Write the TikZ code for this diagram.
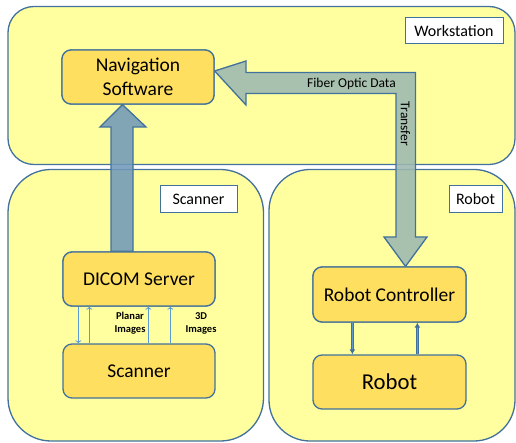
\documentclass[tikz,border=0pt]{standalone}
\usepackage{fontspec}
\setmainfont{Carlito}
\usetikzlibrary{arrows.meta,calc}
\definecolor{panelfill}{HTML}{FFFFA0}
\definecolor{boxfill}{HTML}{FFDF60}
\definecolor{bordercol}{HTML}{41719C}
\definecolor{bigarrow}{HTML}{7199BA}
\definecolor{fiber}{HTML}{9DB8B0}
\definecolor{thinblue}{HTML}{5B9BD5}
\tikzset{
  panel/.style={draw=bordercol, line width=1.3pt, fill=panelfill, inner sep=0pt},
  tag/.style={draw=bordercol, line width=1pt, fill=white, inner sep=0pt, font=\fontsize{16}{18}\selectfont},
  blockbox/.style={draw=bordercol, line width=1.3pt, fill=boxfill, rounded corners=9pt, inner sep=0pt, align=center, font=\fontsize{19.5}{24}\selectfont},
  blockarrow/.style={draw=bordercol, line width=1.3pt, fill opacity=0.88},
  thinarr/.style={draw=thinblue, line width=0.8pt, -{To[length=3pt,width=6pt]}},
  dblarr/.style={draw=bordercol, line width=0.9pt, double=thinblue, double distance=1.6pt, -{Latex[length=5pt,width=6pt]}},
  smalllbl/.style={font=\fontsize{10.5}{13}\selectfont\bfseries, align=center},
}
\begin{document}
\begin{tikzpicture}[x=1pt,y=-1pt]
\useasboundingbox (0,0) rectangle (516,443);
% panels
\node[panel, rounded corners=26pt, minimum width=507pt, minimum height=158pt] (ws) at (261.5,85.5) {};
\node[panel, rounded corners=43pt, minimum width=255.5pt, minimum height=271.5pt] (scn) at (135.75,305.25) {};
\node[panel, rounded corners=41pt, minimum width=246pt, minimum height=271.5pt] (rob) at (392,305.25) {};
% panel tags
\node[tag, minimum width=98pt, minimum height=26pt] (wstag) at (454,31) {Workstation};
\node[tag, minimum width=77pt, minimum height=27pt] (scntag) at (198.5,199.5) {Scanner};
\node[tag, minimum width=53pt, minimum height=27pt] (robtag) at (475.5,199.5) {Robot};
% boxes
\node[blockbox, minimum width=152pt, minimum height=54pt] (nav) at (138,77) {Navigation\\Software};
\node[blockbox, minimum width=152pt, minimum height=54pt] (dicom) at (139,279) {DICOM Server};
\node[blockbox, minimum width=152pt, minimum height=54pt] (scanbox) at (139,371) {Scanner};
\node[blockbox, minimum width=153pt, minimum height=55pt] (ctrl) at (389.5,294.5) {Robot Controller};
\node[blockbox, minimum width=153pt, minimum height=54pt, font=\fontsize{22.7}{26}\selectfont] (robbox) at (389.5,382) {Robot};
% big up arrow DICOM -> Navigation
\path[blockarrow, fill=bigarrow]
  ([xshift=-28pt]dicom.north) -- ([xshift=-28pt]dicom.north |- 0,127) -- ([xshift=-39pt]dicom.north |- 0,127)
  -- ([xshift=-15.5pt]nav.south) -- ([xshift=7pt]dicom.north |- 0,127) -- ([xshift=-6pt]dicom.north |- 0,127)
  -- ([xshift=-6pt]dicom.north) -- cycle;
% fiber optic L arrow Robot Controller -> Navigation
\path[blockarrow, fill=fiber]
  ([yshift=6pt]nav.east) -- (246,61) -- (246,72.5) -- (415.5,72.5) -- (415.5,237) -- (427,237)
  -- ([xshift=16pt]ctrl.north) -- (384,237) -- (396,237) -- (396,93.5) -- (246,93.5) -- (246,105) -- cycle;
\node[anchor=east, font=\fontsize{13.5}{15}\selectfont, inner sep=0pt] (fod) at (396,83.5) {Fiber Optic Data};
\node[rotate=-90, font=\fontsize{13.5}{15}\selectfont, inner sep=0pt] (tr) at (405.5,124) {Transfer};
% redraw boxes over arrow tips
\node[blockbox, minimum width=152pt, minimum height=54pt] at (nav) {Navigation\\Software};
\node[blockbox, minimum width=152pt, minimum height=54pt] at (dicom) {DICOM Server};
\node[blockbox, minimum width=153pt, minimum height=55pt] at (ctrl) {Robot Controller};
% thin arrows DICOM <-> Scanner
\draw[thinarr] ([xshift=16pt]dicom.south west) -- ([xshift=16pt]scanbox.north west);
\draw[thinarr] ([xshift=27pt]scanbox.north west) -- ([xshift=27pt]dicom.south west);
\draw[thinarr] ([xshift=86pt]scanbox.north west) -- ([xshift=86pt]dicom.south west);
\draw[thinarr] ([xshift=108pt]scanbox.north west) -- ([xshift=108pt]dicom.south west);
\node[smalllbl] (planar) at (130,323.5) {Planar\\Images};
\node[smalllbl] (threed) at (201,323.5) {3D\\Images};
% robot controller <-> robot
\draw[dblarr] ([xshift=40pt]ctrl.south west) -- ([xshift=40pt]robbox.north west);
\draw[dblarr] ([xshift=105pt]robbox.north west) -- ([xshift=105pt]ctrl.south west);
\end{tikzpicture}
\end{document}
